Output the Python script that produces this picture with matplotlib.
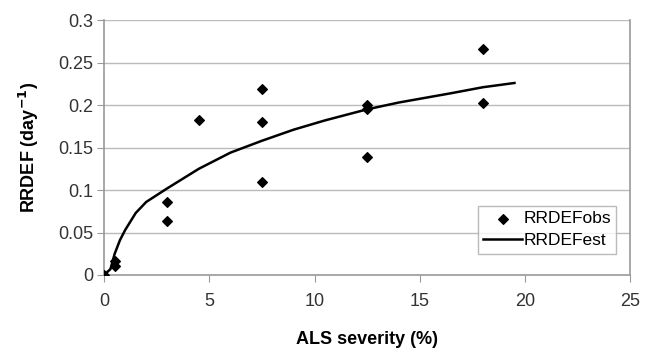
import matplotlib.pyplot as plt

# observed points (ALS severity %, RRDEF)
obs_x = [0, 0.5, 0.5, 3, 3, 4.5, 7.5, 7.5, 7.5, 12.5, 12.5, 12.5, 18, 18]
obs_y = [0, 0.016, 0.010, 0.086, 0.064, 0.183, 0.219, 0.180, 0.110,
         0.200, 0.195, 0.139, 0.266, 0.203]

# estimated curve
est_x = [0, 0.3, 0.5, 0.75, 1.0, 1.5, 2, 3, 4.5, 6, 7.5, 9, 10.5, 12.5, 14, 16.5, 18, 19.5]
est_y = [0, 0.007, 0.025, 0.041, 0.053, 0.073, 0.086, 0.102, 0.125, 0.144, 0.158,
         0.171, 0.182, 0.195, 0.203, 0.214, 0.221, 0.226]

x_ticks = [0, 5, 10, 15, 20, 25]
y_ticks = [0, 0.05, 0.1, 0.15, 0.2, 0.25, 0.3]

plt.rcParams['font.family'] = ['Liberation Sans', 'DejaVu Sans']

fig = plt.figure(figsize=(6.51, 3.53), dpi=100)
ax = fig.add_axes([0.160, 0.221, 0.808, 0.722])

ax.scatter(obs_x, obs_y, marker='D', s=24, color='black', zorder=3, label='RRDEFobs')
ax.plot(est_x, est_y, color='black', lw=1.8, zorder=2, label='RRDEFest')

ax.set_xlim(0, 25)
ax.set_ylim(0, 0.3)
ax.set_xticks(x_ticks)
ax.set_yticks(y_ticks)
ax.set_yticklabels(['0', '0.05', '0.1', '0.15', '0.2', '0.25', '0.3'])
ax.tick_params(labelsize=13, colors='#333333', length=5, color='#999999')
ax.tick_params(axis='x', pad=8)
ax.tick_params(axis='y', pad=3)

ax.grid(axis='y', color='#bbbbbb', lw=1)
ax.set_axisbelow(True)
for side in ['left', 'bottom', 'right']:
    ax.spines[side].set_color('#999999')
    ax.spines[side].set_linewidth(1.2)
ax.spines['top'].set_visible(False)

ax.set_xlabel('ALS severity (%)', fontsize=13, fontweight='bold', labelpad=15)
ax.set_ylabel('RRDEF (day$^{\\mathbf{-1}}$)', fontsize=13, fontweight='bold', labelpad=12)

leg = ax.legend(loc='lower right', bbox_to_anchor=(0.99, 0.05), fontsize=12.5,
                frameon=True, fancybox=False, edgecolor='#aaaaaa',
                handlelength=2.2, handletextpad=0.1, borderpad=0.3, labelspacing=0.4)
leg.get_frame().set_linewidth(1)

plt.savefig('out.png', dpi=100)
plt.close()
